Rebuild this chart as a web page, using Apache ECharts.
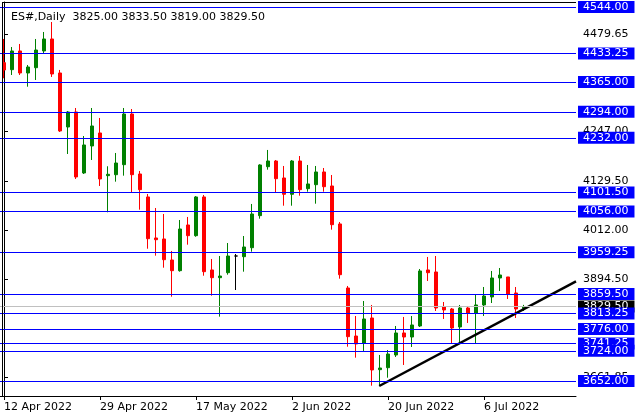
<!DOCTYPE html>
<html><head><meta charset="utf-8">
<script src="https://cdn.jsdelivr.net/npm/echarts@6/dist/echarts.min.js"></script>
<style>html,body{margin:0;padding:0;background:#fff}#c{width:640px;height:420px}</style>
</head><body><div id="c"></div>
<script>
// ---- data ----
const titleText = 'ES#,Daily  3825.00 3833.50 3819.00 3829.50';
const dates = [
 '12 Apr 2022','13 Apr 2022','14 Apr 2022','18 Apr 2022','19 Apr 2022','20 Apr 2022','21 Apr 2022','22 Apr 2022','25 Apr 2022','26 Apr 2022','27 Apr 2022','28 Apr 2022','29 Apr 2022',
 '2 May 2022','3 May 2022','4 May 2022','5 May 2022','6 May 2022','9 May 2022','10 May 2022','11 May 2022','12 May 2022','13 May 2022','16 May 2022','17 May 2022','18 May 2022','19 May 2022','20 May 2022','23 May 2022','24 May 2022','25 May 2022','26 May 2022','27 May 2022','30 May 2022','31 May 2022',
 '1 Jun 2022','2 Jun 2022','3 Jun 2022','6 Jun 2022','7 Jun 2022','8 Jun 2022','9 Jun 2022','10 Jun 2022','13 Jun 2022','14 Jun 2022','15 Jun 2022','16 Jun 2022','17 Jun 2022','20 Jun 2022','21 Jun 2022','22 Jun 2022','23 Jun 2022','24 Jun 2022','27 Jun 2022','28 Jun 2022','29 Jun 2022','30 Jun 2022',
 '1 Jul 2022','4 Jul 2022','5 Jul 2022','6 Jul 2022','7 Jul 2022','8 Jul 2022','11 Jul 2022','12 Jul 2022','13 Jul 2022'
];
const emptySlots = ['14 Jul 2022','15 Jul 2022','18 Jul 2022','19 Jul 2022','20 Jul 2022','21 Jul 2022'];
const opens  = [4411.2,4394.5,4439.1,4386.6,4399.2,4439.1,4467.7,4386.6,4257.8,4293.6,4148.1,4212.5,4243.5,
 4141.7,4144.0,4167.9,4288.8,4145.7,4090.9,3993.1,3990.7,3940.6,3915.1,4024.1,3998.6,4090.9,3916.8,3898.4,3910.3,3950.1,3948.5,3969.9,4046.3,4163.1,4176.7,
 4136.2,4097.3,4176.7,4110.7,4120.2,4150.5,4117.1,4026.5,3873.8,3759.3,3742.6,3802.3,3679.0,3683.7,3714.0,3766.5,3756.9,3783.2,3916.8,3912.0,3828.5,3823.7,
 3780.8,3826.1,3814.2,3833.3,3852.4,3897.7,3900.1,3861.9,3825.0];
const highs  = [4467.7,4448.6,4455.8,4405.7,4467.7,4484.4,4508.2,4393.8,4296.0,4303.1,4236.3,4303.1,4279.3,
 4164.1,4195.8,4303.1,4300.7,4152.9,4098.0,4064.6,4050.3,3962.1,4036.0,4043.2,4093.0,4095.6,3943.0,3950.1,3981.1,3954.9,3997.8,4074.2,4169.0,4203.0,4179.1,
 4164.8,4179.1,4188.6,4167.2,4164.8,4160.0,4143.3,4031.2,3878.6,3807.0,3842.8,3833.3,3714.0,3725.9,3783.2,3804.7,3807.0,3919.1,3947.8,3950.1,3840.4,3826.1,
 3833.3,3830.9,3857.1,3876.2,3914.4,3921.5,3900.1,3876.2,3833.5];
const lows   = [4374.0,4381.8,4381.8,4353.9,4369.9,4433.6,4377.1,4245.9,4193.4,4133.8,4145.7,4179.1,4117.1,
 4054.4,4127.4,4141.7,4100.4,4060.6,3967.5,3950.9,3922.2,3853.1,3912.7,3977.1,3996.0,3903.1,3855.5,3805.4,3905.5,3869.0,3912.7,3960.4,4039.1,4156.0,4101.1,
 4070.1,4070.1,4093.9,4103.5,4074.9,4103.5,4012.9,3896.0,3733.8,3707.6,3723.6,3640.8,3640.8,3659.9,3709.3,3690.2,3733.1,3780.8,3890.5,3819.0,3799.9,3740.3,
 3740.3,3790.4,3742.6,3807.0,3838.0,3866.7,3847.6,3802.3,3819.0];
const closes = [4393.7,4439.1,4386.6,4400.9,4441.4,4467.7,4384.2,4248.3,4293.6,4138.6,4214.9,4260.2,4133.8,
 4145.0,4171.9,4288.8,4144.0,4108.3,3991.4,3989.0,3941.3,3915.1,4014.5,3998.6,4090.9,3912.7,3898.4,3902.4,3950.1,3950.1,3971.6,4050.3,4167.2,4176.7,4134.5,
 4097.3,4176.7,4108.3,4121.9,4150.5,4115.4,4024.8,3905.5,3757.7,3740.3,3799.9,3678.3,3683.0,3716.4,3766.5,3756.9,3785.6,3914.4,3910.3,3826.1,3821.4,3778.4,
 3826.1,3814.2,3833.3,3854.7,3897.7,3904.8,3859.5,3823.7,3829.5];
const levels = [4544.00,4433.25,4365.00,4294.00,4232.00,4101.50,4056.00,3959.25,3859.50,3813.25,3776.00,3741.25,3724.00,3652.00];
const tickValues = [4479.65,4247.00,4129.50,4012.00,3894.50,3661.85];
const bidPrice = 3829.50;
const trendX = [46.9, 71.5];
const trendY = [3640.1, 3889.5];
const xLabelIdx = [0,12,24,36,48,60];

// ---- chart ----
const FONT = 'DejaVu Sans';
const candleData = opens.map((o,i)=>{
  const item = {value:[o, closes[i], lows[i], highs[i]]};
  if (o === closes[i]) item.itemStyle = {color:'#000',color0:'#000',borderColor:'#000',borderColor0:'#000'};
  return item;
});
const chart = echarts.init(document.getElementById('c'), null, {renderer:'canvas'});
const showIdx = (i)=> xLabelIdx.indexOf(i) >= 0;
chart.setOption({
  animation:false,
  backgroundColor:'#fff',
  title:{text:titleText,left:6,top:7,textStyle:{fontFamily:FONT,fontSize:11,fontWeight:'normal',color:'#000'}},
  grid:{left:-0.5,right:64,top:2,bottom:24,containLabel:false},
  xAxis:[{
    type:'category', data:dates.concat(emptySlots), boundaryGap:true,
    axisLine:{show:true,lineStyle:{color:'#000',width:1}},
    axisTick:{show:true,alignWithLabel:true,interval:showIdx,length:4,lineStyle:{color:'#000'}},
    axisLabel:{show:true,interval:showIdx,align:'left',margin:6,color:'#000',fontFamily:FONT,fontSize:11},
    splitLine:{show:false}
  },{
    type:'value', min:-0.5, max:71.5, show:false
  }],
  yAxis:{
    type:'value', position:'right', min:3616.2, max:4555.9, scale:true,
    splitLine:{show:false},
    axisLine:{show:true,lineStyle:{color:'#000',width:1}},
    axisTick:{show:true,length:4,customValues:tickValues,lineStyle:{color:'#000'}},
    axisLabel:{show:true,margin:7,customValues:tickValues,formatter:(v)=>Number(v).toFixed(2),color:'#000',fontFamily:FONT,fontSize:11}
  },
  graphic:[
    {type:'line',shape:{x1:2,y1:2.5,x2:576,y2:2.5},style:{stroke:'#000',lineWidth:1},z:100},
    {type:'line',shape:{x1:2.5,y1:2,x2:2.5,y2:396},style:{stroke:'#000',lineWidth:1},z:100}
  ],
  series:[
    {type:'line',data:[],z:1,silent:true,
     markLine:{symbol:'none',silent:true,animation:false,
       lineStyle:{color:'#c0c0c0',width:1,type:'solid'},
       label:{show:true,position:'end',distance:2,formatter:(p)=>Number(p.value).toFixed(2),color:'#fff',backgroundColor:'#000',fontFamily:FONT,fontSize:11,lineHeight:12,padding:[0,6,0,5]},
       data:[{yAxis:bidPrice}]}},
    {type:'candlestick',data:candleData,barWidth:4,z:2,
     itemStyle:{color:'#008000',color0:'#ff0000',borderColor:'#008000',borderColor0:'#ff0000',borderWidth:1}},
    {type:'line',data:[],z:3,silent:true,
     markLine:{symbol:'none',silent:true,animation:false,
       lineStyle:{color:'#0000ff',width:1,type:'solid'},
       label:{show:true,position:'end',distance:2,formatter:(p)=>Number(p.value).toFixed(2),color:'#fff',backgroundColor:'#0000ff',fontFamily:FONT,fontSize:11,lineHeight:12,padding:[0,6,0,5]},
       data:levels.map(v=>({yAxis:v}))}},
    {type:'line',xAxisIndex:1,z:4,silent:true,symbol:'none',
     lineStyle:{color:'#000',width:2.5},
     data:trendX.map((x,i)=>[x,trendY[i]])}
  ]
});
</script>
</body></html>
